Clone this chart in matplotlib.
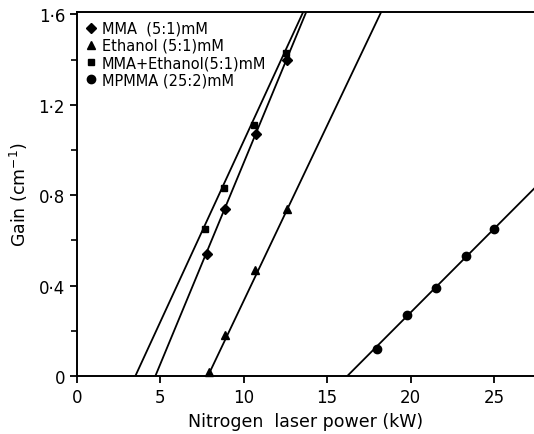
import numpy as np
import matplotlib.pyplot as plt
from matplotlib.ticker import MultipleLocator

# measured points (laser power kW, gain cm^-1)
mma_x = [7.8, 8.85, 10.75, 12.6]
mma_y = [0.54, 0.74, 1.07, 1.40]
eth_x = [7.9, 8.9, 10.7, 12.6]
eth_y = [0.02, 0.18, 0.47, 0.74]
mix_x = [7.65, 8.8, 10.6, 12.55]
mix_y = [0.65, 0.83, 1.11, 1.43]
mpm_x = [18.0, 19.8, 21.5, 23.3, 25.0]
mpm_y = [0.12, 0.27, 0.39, 0.53, 0.65]

# fitted lines: threshold power (gain = 0) and slope
fit_x0 = [4.7, 7.85, 3.5, 16.2]
fit_slope = [0.178, 0.155, 0.160, 0.074]

labels = ["MMA  (5:1)mM", "Ethanol (5:1)mM", "MMA+Ethanol(5:1)mM", "MPMMA (25:2)mM"]
markers = ["D", "^", "s", "o"]
msizes = [5, 6, 5, 6]

yticks = [0, 0.4, 0.8, 1.2, 1.6]
ytick_labels = ['0', '0·4', '0·8', '1·2', '1·6']

fig = plt.figure(figsize=(5.34, 4.35), dpi=100)
ax = fig.add_axes([0.144, 0.133, 0.856, 0.837])

series = [(mma_x, mma_y), (eth_x, eth_y), (mix_x, mix_y), (mpm_x, mpm_y)]
for i, (xs, ys) in enumerate(series):
    ax.axline((fit_x0[i], 0), slope=fit_slope[i], color='black', lw=1.3)
    ax.plot(xs, ys, linestyle='none', marker=markers[i], ms=msizes[i],
            color='black', label=labels[i], clip_on=False, zorder=3)

ax.set_xlim(0, 27.4)
ax.set_ylim(0, 1.61)
ax.set_xticks([0, 5, 10, 15, 20, 25])
ax.set_yticks(yticks)
ax.set_yticklabels(ytick_labels)
ax.yaxis.set_minor_locator(MultipleLocator(0.2))
ax.tick_params(direction='out', length=5, width=1.3, labelsize=12)
ax.tick_params(which='minor', direction='out', length=4, width=1.2)

ax.spines['right'].set_visible(False)
for s in ['left', 'bottom', 'top']:
    ax.spines[s].set_linewidth(1.4)

ax.set_xlabel('Nitrogen  laser power (kW)', fontsize=12.5, labelpad=4)
ax.set_ylabel('Gain (cm$^{-1}$)', fontsize=12.5, labelpad=6)

ax.legend(loc='upper left', frameon=False, fontsize=10.5, handletextpad=0.3,
          handlelength=0.8, labelspacing=0.15, borderaxespad=0.5,
          borderpad=0.1, markerscale=1.0)

fig.savefig('out.png', dpi=100)
